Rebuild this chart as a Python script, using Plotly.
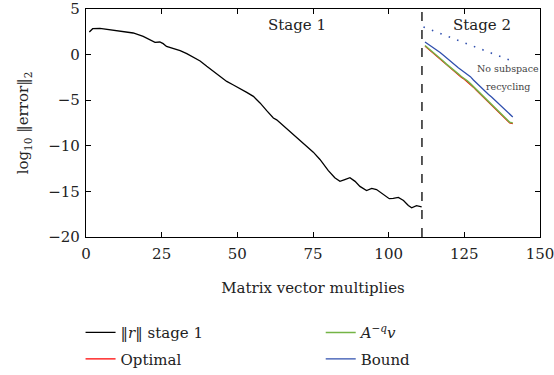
import plotly.graph_objects as go

# Stage 1 residual (log10 ||r||)
stage1_x = [1.1, 2.2, 4.6, 10.1, 15.6, 18.9, 21.7, 22.8, 24.4, 25.5, 26.6, 28.8, 31.1, 33.3,
            35.5, 37.7, 39.9, 42.1, 44.3, 46.5, 48.7, 50.9, 53.1, 55.3, 57.5, 59.7, 61.9,
            63.0, 65.2, 67.4, 69.6, 71.8, 75.1, 77.3, 80.0, 82.2, 83.9, 85.5, 87.2, 88.9,
            90.5, 92.7, 94.4, 96.0, 98.3, 100.2, 101.5, 103.2, 104.9, 106.5, 107.6, 109.2, 110.9]
stage1_y = [2.48, 2.84, 2.88, 2.66, 2.37, 2.0, 1.56, 1.34, 1.38, 1.2, 0.9, 0.68, 0.43, 0.1,
            -0.26, -0.70, -1.29, -1.84, -2.39, -2.94, -3.33, -3.7, -4.14, -4.58, -5.3, -6.15, -6.95,
            -7.15, -7.8, -8.42, -9.04, -9.7, -10.7, -11.5, -12.7, -13.5, -13.9, -13.7, -13.5, -13.9,
            -14.45, -14.9, -14.67, -14.8, -15.36, -15.8, -15.76, -15.66, -16.0, -16.55, -16.8, -16.57, -16.7]

stage2_x = list(range(112, 142))
bound_y = [1.38, 1.15, 0.95, 0.74, 0.52, 0.22, -0.05, -0.35, -0.62, -0.92,
           -1.18, -1.45, -1.68, -1.90, -2.15, -2.42, -2.78, -3.12, -3.45, -3.78,
           -4.10, -4.38, -4.65, -4.95, -5.25, -5.55, -5.88, -6.18, -6.50, -6.84]
aqv_y = [1.00, 0.72, 0.45, 0.20, -0.05, -0.38, -0.70, -1.02, -1.32, -1.58,
         -1.88, -2.12, -2.40, -2.62, -2.88, -3.18, -3.50, -3.82, -4.15, -4.50,
         -4.82, -5.10, -5.45, -5.78, -6.10, -6.42, -6.75, -7.12, -7.42, -7.50]
optimal_y = [0.93, 0.64, 0.38, 0.12, -0.13, -0.45, -0.78, -1.09, -1.40, -1.65,
             -1.96, -2.20, -2.47, -2.70, -2.96, -3.26, -3.57, -3.90, -4.22, -4.58,
             -4.89, -5.18, -5.52, -5.86, -6.17, -6.50, -6.82, -7.19, -7.48, -7.57]

norecycle_x = [111.5, 141]
norecycle_y = [3.03, -0.74]

stage_switch = 111

x_ticks = [0, 25, 50, 75, 100, 125, 150]
y_ticks = [5, 0, -5, -10, -15, -20]

FONT = "DejaVu Serif"
TXT = "#222222"
GREEN = "#74b446"
BLUE = "#2f4fae"

fig = go.Figure()
fig.add_trace(go.Scatter(x=stage1_x, y=stage1_y, mode="lines", line=dict(color="black", width=1.3),
                         name="‖<i>r</i>‖ stage 1", legend="legend", legendgroup="a"))
fig.add_trace(go.Scatter(x=stage2_x, y=optimal_y, mode="lines", line=dict(color="#ff0000", width=1.3),
                         name="Optimal", legend="legend", legendgroup="b"))
fig.add_trace(go.Scatter(x=stage2_x, y=aqv_y, mode="lines", line=dict(color=GREEN, width=1.5),
                         name="<i>A</i><sup>−<i>q</i></sup><i>v</i>", legend="legend2", legendgroup="c"))
fig.add_trace(go.Scatter(x=stage2_x, y=bound_y, mode="lines", line=dict(color=BLUE, width=1.3),
                         name="Bound", legend="legend2", legendgroup="d"))
fig.add_trace(go.Scatter(x=norecycle_x, y=norecycle_y, mode="lines",
                         line=dict(color=BLUE, width=1.6, dash="1.5px,7.5px"), showlegend=False))

fig.add_shape(type="line", xref="x", yref="paper", x0=stage_switch, x1=stage_switch, y0=0, y1=1,
              line=dict(color="black", width=1.3, dash="dash"))

fig.add_annotation(x=69.7, y=3.2, text="Stage 1", showarrow=False, font=dict(family=FONT, size=15, color=TXT))
fig.add_annotation(x=131, y=3.2, text="Stage 2", showarrow=False, font=dict(family=FONT, size=15, color=TXT))
fig.add_annotation(x=139.4, y=-1.55, text="No subspace", showarrow=False,
                   font=dict(family=FONT, size=9.5, color="#444"))
fig.add_annotation(x=139.4, y=-3.5, text="recycling", showarrow=False,
                   font=dict(family=FONT, size=9.5, color="#444"))

axis_common = dict(showline=True, linecolor="black", linewidth=1.2, mirror="ticks", ticks="inside",
                   ticklen=5, tickcolor="black", showgrid=False, zeroline=False, automargin=False,
                   ticklabeloverflow="allow", tickfont=dict(family=FONT, size=15, color=TXT))

fig.update_xaxes(range=[0, 150], tickvals=x_ticks, ticklabelstandoff=3, **axis_common,
                 title=dict(text="Matrix vector multiplies", font=dict(family=FONT, size=15, color=TXT), standoff=20))
fig.update_yaxes(range=[-20, 5], tickvals=y_ticks, ticklabelstandoff=2, **axis_common,
                 title=dict(text="log<sub>10</sub> ‖error‖<sub>2</sub>", font=dict(family=FONT, size=15, color=TXT), standoff=15))

legend_common = dict(orientation="v", yref="container", yanchor="top", y=0.157, xanchor="left", tracegroupgap=4,
                     font=dict(family=FONT, size=15, color=TXT), itemwidth=30, bgcolor="rgba(0,0,0,0)")

fig.update_layout(
    width=554, height=375,
    margin=dict(l=86, r=14, t=9, b=138),
    plot_bgcolor="white", paper_bgcolor="white",
    font=dict(family=FONT, size=15, color=TXT),
    legend=dict(x=-0.012, **legend_common),
    legend2=dict(x=0.517, **legend_common),
)

fig.write_html("out.html")
